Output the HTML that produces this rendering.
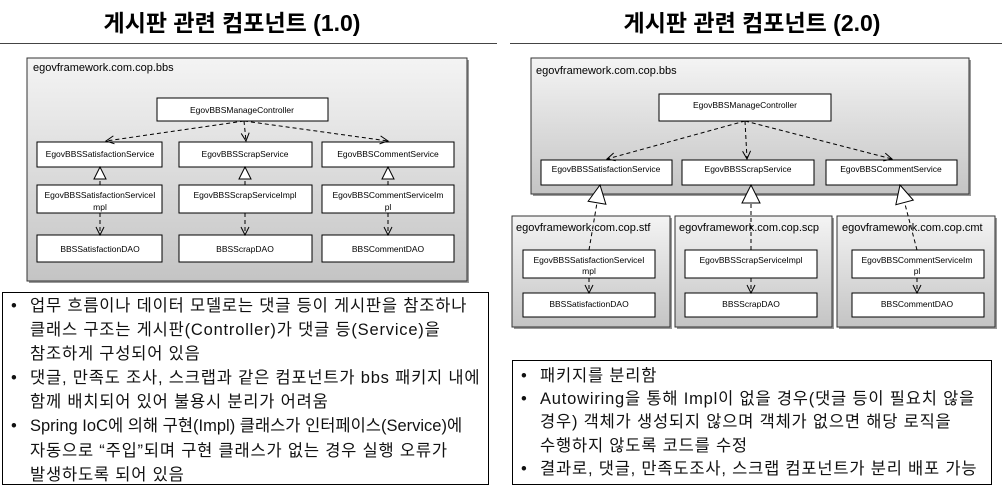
<!DOCTYPE html>
<html><head><meta charset="utf-8"><style>
body{margin:0;width:1002px;height:492px;background:#fff;overflow:hidden;position:relative;font-family:"Liberation Sans","Noto Sans CJK KR",sans-serif}
.t{position:absolute;font-size:16.5px;line-height:21.4px;color:#111;white-space:nowrap;letter-spacing:0.8px}
.t div{position:relative;padding-left:25px}
.t div.b:before{content:"•";position:absolute;left:6px}
</style></head><body>
<svg width="1002" height="492" style="position:absolute;left:0;top:0" font-family="Liberation Sans, sans-serif">
<defs>
<linearGradient id="g" x1="0" y1="0" x2="0" y2="1"><stop offset="0" stop-color="#f4f4f4"/><stop offset="1" stop-color="#c4c4c4"/></linearGradient>
<marker id="o" markerWidth="10" markerHeight="10" refX="9" refY="5" orient="auto" markerUnits="userSpaceOnUse"><path d="M1,1 L9,5 L1,9" fill="none" stroke="#000" stroke-width="1"/></marker>
<marker id="tr" markerWidth="14" markerHeight="14" refX="13" refY="7" orient="auto" markerUnits="userSpaceOnUse"><path d="M1,1 L13,7 L1,13 Z" fill="#fff" stroke="#000" stroke-width="1"/></marker>
<marker id="trb" markerWidth="20" markerHeight="20" refX="19" refY="10" orient="auto" markerUnits="userSpaceOnUse"><path d="M1,1 L19,10 L1,19 Z" fill="#fff" stroke="#000" stroke-width="1"/></marker>
</defs>
<text x="232" y="31" font-size="23" font-weight="bold" text-anchor="middle" font-family="Liberation Sans, Noto Sans CJK KR, sans-serif">게시판 관련 컴포넌트 (1.0)</text>
<text x="752" y="31" font-size="23" font-weight="bold" text-anchor="middle" font-family="Liberation Sans, Noto Sans CJK KR, sans-serif">게시판 관련 컴포넌트 (2.0)</text>
<line x1="0" y1="43.5" x2="497" y2="43.5" stroke="#444"/>
<line x1="510" y1="43.5" x2="1002" y2="43.5" stroke="#444"/>
<g font-size="8.5" text-anchor="middle">
<rect x="29" y="60" width="440" height="223" fill="#999"/>
<rect x="27" y="58" width="440" height="223" fill="url(#g)" stroke="#333"/>
<text x="33" y="71" font-size="11" text-anchor="start">egovframework.com.cop.bbs</text>
<g fill="#fff" stroke="#000">
<rect x="157" y="98" width="171" height="23"/>
<rect x="37" y="142" width="125" height="25"/><rect x="179" y="142" width="133" height="25"/><rect x="322" y="142" width="132" height="25"/>
<rect x="37" y="185" width="125" height="28"/><rect x="179" y="185" width="133" height="28"/><rect x="322" y="185" width="132" height="28"/>
<rect x="37" y="235" width="125" height="27"/><rect x="179" y="235" width="133" height="27"/><rect x="322" y="235" width="132" height="27"/>
</g>
<g stroke="#000" stroke-dasharray="4,3" fill="none">
<line x1="244" y1="121" x2="106" y2="141" marker-end="url(#o)"/>
<line x1="244" y1="121" x2="246" y2="141" marker-end="url(#o)"/>
<line x1="244" y1="121" x2="388" y2="141" marker-end="url(#o)"/>
<line x1="100" y1="185" x2="100" y2="167" marker-end="url(#tr)"/>
<line x1="245" y1="185" x2="245" y2="167" marker-end="url(#tr)"/>
<line x1="388" y1="185" x2="388" y2="167" marker-end="url(#tr)"/>
<line x1="100" y1="213" x2="100" y2="235" marker-end="url(#o)"/>
<line x1="245" y1="213" x2="245" y2="235" marker-end="url(#o)"/>
<line x1="388" y1="213" x2="388" y2="235" marker-end="url(#o)"/>
</g>
<text x="242" y="113">EgovBBSManageController</text>
<text x="100" y="157">EgovBBSSatisfactionService</text><text x="245" y="157">EgovBBSScrapService</text><text x="388" y="157">EgovBBSCommentService</text>
<text x="100" y="198">EgovBBSSatisfactionServiceI</text><text x="100" y="210">mpl</text>
<text x="245" y="198">EgovBBSScrapServiceImpl</text>
<text x="388" y="198">EgovBBSCommentServiceIm</text><text x="388" y="210">pl</text>
<text x="100" y="252">BBSSatisfactionDAO</text><text x="245" y="252">BBSScrapDAO</text><text x="388" y="252">BBSCommentDAO</text>
<rect x="533" y="60" width="438" height="136" fill="#999"/>
<rect x="531" y="58" width="438" height="136" fill="url(#g)" stroke="#333"/>
<text x="536" y="74" font-size="11" text-anchor="start">egovframework.com.cop.bbs</text>
<rect x="514" y="218" width="158" height="111" fill="#999"/><rect x="512" y="216" width="158" height="111" fill="url(#g)" stroke="#333"/>
<rect x="677" y="218" width="157" height="111" fill="#999"/><rect x="675" y="216" width="157" height="111" fill="url(#g)" stroke="#333"/>
<rect x="839" y="218" width="158" height="111" fill="#999"/><rect x="837" y="216" width="158" height="111" fill="url(#g)" stroke="#333"/>
<text x="516" y="231" font-size="11" text-anchor="start">egovframework.com.cop.stf</text>
<text x="679" y="231" font-size="11" text-anchor="start">egovframework.com.cop.scp</text>
<text x="842" y="231" font-size="11" text-anchor="start">egovframework.com.cop.cmt</text>
<g fill="#fff" stroke="#000">
<rect x="659" y="94" width="172" height="27"/>
<rect x="541" y="160" width="131" height="25"/><rect x="682" y="160" width="132" height="25"/><rect x="826" y="160" width="131" height="25"/>
<rect x="523" y="250" width="132" height="28"/><rect x="685" y="250" width="132" height="28"/><rect x="852" y="250" width="132" height="28"/>
<rect x="523" y="293" width="132" height="24"/><rect x="685" y="293" width="132" height="24"/><rect x="852" y="293" width="132" height="24"/>
</g>
<g stroke="#000" stroke-dasharray="4,3" fill="none">
<line x1="745" y1="121" x2="607" y2="159" marker-end="url(#o)"/>
<line x1="745" y1="121" x2="747" y2="159" marker-end="url(#o)"/>
<line x1="745" y1="121" x2="892" y2="159" marker-end="url(#o)"/>
<line x1="589" y1="250" x2="600" y2="185" marker-end="url(#trb)"/>
<line x1="751" y1="250" x2="751" y2="185" marker-end="url(#trb)"/>
<line x1="917" y1="250" x2="900" y2="185" marker-end="url(#trb)"/>
<line x1="589" y1="278" x2="589" y2="293" marker-end="url(#o)"/>
<line x1="751" y1="278" x2="751" y2="293" marker-end="url(#o)"/>
<line x1="917" y1="278" x2="917" y2="293" marker-end="url(#o)"/>
</g>
<text x="745" y="108">EgovBBSManageController</text>
<text x="606" y="172">EgovBBSSatisfactionService</text><text x="748" y="172">EgovBBSScrapService</text><text x="891" y="172">EgovBBSCommentService</text>
<text x="589" y="263">EgovBBSSatisfactionServiceI</text><text x="589" y="274">mpl</text>
<text x="751" y="263">EgovBBSScrapServiceImpl</text>
<text x="917" y="263">EgovBBSCommentServiceIm</text><text x="917" y="274">pl</text>
<text x="589" y="307">BBSSatisfactionDAO</text><text x="751" y="307">BBSScrapDAO</text><text x="917" y="307">BBSCommentDAO</text>
</g>
<rect x="2.5" y="292.5" width="486" height="192" fill="none" stroke="#000"/>
<rect x="512.5" y="360.5" width="479" height="124" fill="none" stroke="#000"/>
</svg>
<div class="t" style="left:5px;top:294px;width:480px;line-height:24.1px">
<div class="b">업무 흐름이나 데이터 모델로는 댓글 등이 게시판을 참조하나<br>클래스 구조는 게시판(Controller)가 댓글 등(Service)을<br>참조하게 구성되어 있음</div>
<div class="b">댓글, 만족도 조사, 스크랩과 같은 컴포넌트가 bbs 패키지 내에<br>함께 배치되어 있어 불용시 분리가 어려움</div>
<div class="b"><span style="letter-spacing:0">Spring IoC에 의해 구현(Impl) 클래스가 인터페이스(Service)에</span><br>자동으로 “주입”되며 구현 클래스가 없는 경우 실행 오류가<br>발생하도록 되어 있음</div>
</div>
<div class="t" style="left:515px;top:365px;width:475px;line-height:23.2px">
<div class="b">패키지를 분리함</div>
<div class="b">Autowiring을 통해 Impl이 없을 경우(댓글 등이 필요치 않을<br>경우) 객체가 생성되지 않으며 객체가 없으면 해당 로직을<br>수행하지 않도록 코드를 수정</div>
<div class="b">결과로, 댓글, 만족도조사, 스크랩 컴포넌트가 분리 배포 가능</div>
</div>
</body></html>
